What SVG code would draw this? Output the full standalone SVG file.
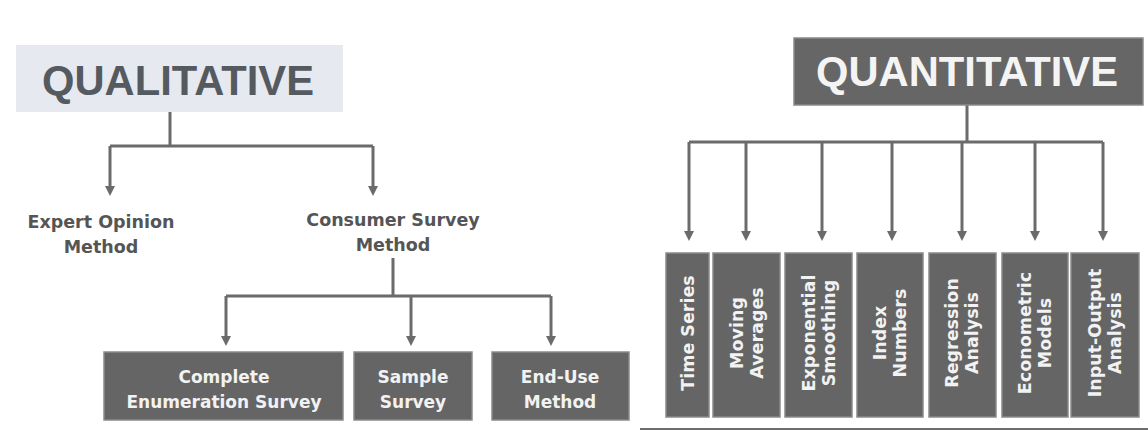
<svg xmlns="http://www.w3.org/2000/svg" width="1148" height="432" viewBox="0 0 1148 432">
<style>
.bg{fill:#ffffff}
.conn{fill:none;stroke:#6b6b6b;stroke-width:3}
.head{font-family:"Liberation Sans",Arial,sans-serif;font-weight:bold}
.lbl{font-family:"DejaVu Sans",Verdana,sans-serif;font-weight:bold;font-size:17.5px;fill:#555555;text-anchor:middle}
.box{fill:#656565;stroke:#8a8a8a;stroke-width:1.5}
.btxt{font-family:"DejaVu Sans",Verdana,sans-serif;font-weight:bold;font-size:17px;fill:#f2f2f2;text-anchor:middle}
.vtxt{font-family:"DejaVu Sans",Verdana,sans-serif;font-weight:bold;font-size:17.5px;fill:#f2f2f2;text-anchor:middle}
</style>
<defs>
<marker id="arr" markerUnits="userSpaceOnUse" markerWidth="12" markerHeight="12" refX="4" refY="6" orient="auto">
<path d="M0,1 L10,6 L0,11 z" fill="#6b6b6b"/>
</marker>
</defs>
<rect class="bg" x="0" y="0" width="1148" height="432"/>

<g id="connectors">
<path class="conn" d="M170,112 V146 M110,146 H373"/>
<path class="conn" d="M110,146 V190" marker-end="url(#arr)"/>
<path class="conn" d="M373,146 V190" marker-end="url(#arr)"/>
<path class="conn" d="M393,258 V296 M226,296 H551"/>
<path class="conn" d="M226,296 V340" marker-end="url(#arr)"/>
<path class="conn" d="M411,296 V340" marker-end="url(#arr)"/>
<path class="conn" d="M551,296 V340" marker-end="url(#arr)"/>
<path class="conn" d="M967,104 V142 M689,142 H1103"/>
<path class="conn" d="M689,142 V235" marker-end="url(#arr)"/>
<path class="conn" d="M746,142 V235" marker-end="url(#arr)"/>
<path class="conn" d="M822,142 V235" marker-end="url(#arr)"/>
<path class="conn" d="M892,142 V235" marker-end="url(#arr)"/>
<path class="conn" d="M962,142 V235" marker-end="url(#arr)"/>
<path class="conn" d="M1035,142 V235" marker-end="url(#arr)"/>
<path class="conn" d="M1103,142 V235" marker-end="url(#arr)"/>
</g>

<g id="qualitative">
<rect x="16" y="45" width="327" height="67" fill="#e7e9f0"/>
<text class="head" x="178" y="95" font-size="42" fill="#555a60" text-anchor="middle" textLength="272" lengthAdjust="spacingAndGlyphs">QUALITATIVE</text>
</g>

<g id="expert-opinion">
<text class="lbl" x="101" y="228">Expert Opinion</text>
<text class="lbl" x="101" y="253">Method</text>
</g>

<g id="consumer-survey">
<text class="lbl" x="393" y="226">Consumer Survey</text>
<text class="lbl" x="393" y="251">Method</text>
</g>

<g id="complete-enumeration">
<rect class="box" x="104" y="352" width="239" height="68"/>
<text class="btxt" x="224" y="383">Complete</text>
<text class="btxt" x="224" y="408">Enumeration Survey</text>
</g>

<g id="sample-survey">
<rect class="box" x="354" y="352" width="118" height="68"/>
<text class="btxt" x="413" y="383">Sample</text>
<text class="btxt" x="413" y="408">Survey</text>
</g>

<g id="end-use">
<rect class="box" x="492" y="352" width="137" height="68"/>
<text class="btxt" x="560" y="383">End-Use</text>
<text class="btxt" x="560" y="408">Method</text>
</g>

<g id="quantitative">
<rect x="794" y="38" width="349" height="67" fill="#666666" stroke="#8a8a8a" stroke-width="1.5"/>
<text class="head" x="967" y="86" font-size="42" fill="#f4f4f4" text-anchor="middle" textLength="302" lengthAdjust="spacingAndGlyphs">QUANTITATIVE</text>
</g>

<g id="time-series">
<rect class="box" x="666" y="253" width="43" height="164"/>
<text class="vtxt" transform="translate(688,333) rotate(-90)" x="0" y="6">Time Series</text>
</g>

<g id="moving-averages">
<rect class="box" x="713" y="253" width="67" height="164"/>
<text class="vtxt" transform="translate(747,333) rotate(-90)"><tspan x="0" y="-4">Moving</tspan><tspan x="0" y="16">Averages</tspan></text>
</g>

<g id="exponential-smoothing">
<rect class="box" x="785" y="253" width="67" height="164"/>
<text class="vtxt" transform="translate(819,333) rotate(-90)"><tspan x="0" y="-4">Exponential</tspan><tspan x="0" y="16">Smoothing</tspan></text>
</g>

<g id="index-numbers">
<rect class="box" x="857" y="253" width="66" height="164"/>
<text class="vtxt" transform="translate(890,333) rotate(-90)"><tspan x="0" y="-4">Index</tspan><tspan x="0" y="16">Numbers</tspan></text>
</g>

<g id="regression-analysis">
<rect class="box" x="929" y="253" width="67" height="164"/>
<text class="vtxt" transform="translate(962,333) rotate(-90)"><tspan x="0" y="-4">Regression</tspan><tspan x="0" y="16">Analysis</tspan></text>
</g>

<g id="econometric-models">
<rect class="box" x="1002" y="253" width="66" height="164"/>
<text class="vtxt" transform="translate(1035,333) rotate(-90)"><tspan x="0" y="-4">Econometric</tspan><tspan x="0" y="16">Models</tspan></text>
</g>

<g id="input-output-analysis">
<rect class="box" x="1071" y="253" width="68" height="164"/>
<text class="vtxt" transform="translate(1105,333) rotate(-90)"><tspan x="0" y="-4">Input-Output</tspan><tspan x="0" y="16">Analysis</tspan></text>
</g>

<line x1="640" y1="429" x2="1148" y2="429" stroke="#6e6e6e" stroke-width="2"/>
</svg>
